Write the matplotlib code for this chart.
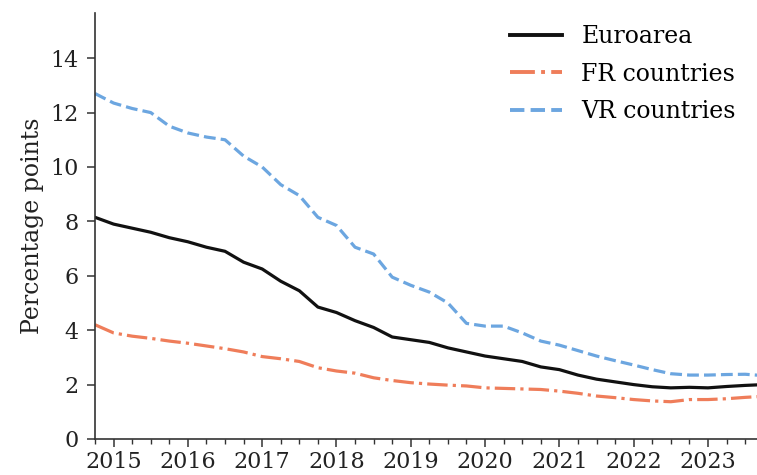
import matplotlib
matplotlib.use("Agg")
import matplotlib.pyplot as plt
from matplotlib.ticker import MultipleLocator

# quarterly time axis (decimal years)
quarters = [2014.75 + 0.25 * i for i in range(37)]

euroarea = [8.15, 7.9, 7.75, 7.6, 7.4, 7.25, 7.05, 6.9, 6.5, 6.25, 5.8, 5.45, 4.85,
            4.65, 4.35, 4.1, 3.75, 3.65, 3.55, 3.35, 3.2, 3.05, 2.95, 2.85, 2.65,
            2.55, 2.35, 2.2, 2.1, 2.0, 1.92, 1.88, 1.9, 1.88, 1.93, 1.97, 2.0]
fr_countries = [4.2, 3.9, 3.78, 3.7, 3.6, 3.52, 3.42, 3.32, 3.2, 3.03, 2.95, 2.85, 2.62,
                2.5, 2.42, 2.25, 2.15, 2.07, 2.02, 1.98, 1.95, 1.88, 1.86, 1.84, 1.82,
                1.76, 1.68, 1.58, 1.52, 1.45, 1.4, 1.37, 1.45, 1.45, 1.48, 1.53, 1.57]
vr_countries = [12.7, 12.35, 12.15, 12.0, 11.5, 11.25, 11.1, 11.0, 10.4, 10.0, 9.35, 8.95,
                8.15, 7.85, 7.05, 6.8, 5.95, 5.65, 5.4, 5.0, 4.25, 4.15, 4.15, 3.9, 3.6,
                3.45, 3.25, 3.05, 2.88, 2.72, 2.55, 2.4, 2.35, 2.35, 2.37, 2.38, 2.33]

year_ticks = list(range(2015, 2024))
y_ticks = [0, 2, 4, 6, 8, 10, 12, 14]

plt.rcParams['font.family'] = ['DejaVu Serif']

fig = plt.figure(figsize=(7.57, 4.75), dpi=100)
ax = fig.add_axes([0.1255, 0.0758, 0.8745, 0.8968])

ax.plot(quarters, euroarea, color='#111111', lw=2.3, label='Euroarea')
ax.plot(quarters, fr_countries, color='#EF7D5A', lw=2.3, ls='-.', label='FR countries')
ax.plot(quarters, vr_countries, color='#6CA6E0', lw=2.3, ls='--', label='VR countries')

ax.set_xlim(2014.75, 2023.66)
ax.set_ylim(0, 15.66)
ax.set_xticks(year_ticks)
ax.set_xticklabels([str(y) for y in year_ticks])
ax.xaxis.set_minor_locator(MultipleLocator(0.25))
ax.set_yticks(y_ticks)

ax.spines['top'].set_visible(False)
ax.spines['right'].set_visible(False)
for s in ('left', 'bottom'):
    ax.spines[s].set_color('#333333')
    ax.spines[s].set_linewidth(1.2)

ax.tick_params(axis='both', which='major', labelsize=16, length=6, width=1.1,
               color='#333333', labelcolor='#222222')
ax.tick_params(axis='x', which='major', pad=2.5)
ax.tick_params(axis='y', which='major', pad=6)
ax.tick_params(axis='x', which='minor', length=3.5, width=1.0, color='#333333')

ax.set_ylabel('Percentage points', fontsize=17, color='#222222', labelpad=4)

leg = ax.legend(loc='upper right', frameon=False, fontsize=17, handlelength=2.2,
                handletextpad=0.8, labelspacing=0.62, bbox_to_anchor=(1.0, 1.022))
for line in leg.get_lines():
    line.set_linewidth(2.8)

fig.savefig('out.png', dpi=100)
